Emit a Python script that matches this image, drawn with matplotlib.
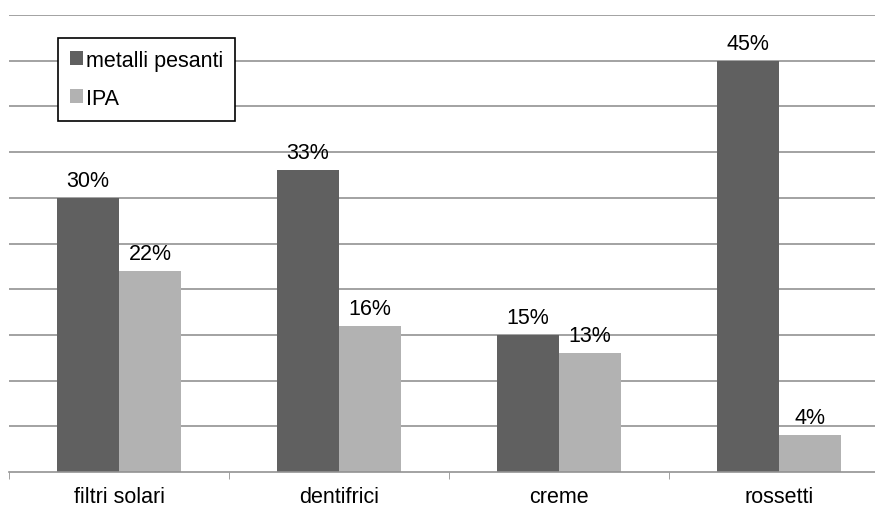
import numpy as np
import matplotlib.pyplot as plt

categorie = ['filtri solari', 'dentifrici', 'creme', 'rossetti']
metalli_pesanti = [30, 33, 15, 45]
ipa = [22, 16, 13, 4]

plt.rcParams['font.family'] = ['Liberation Sans', 'DejaVu Sans']
fs = 15.5

fig = plt.figure(figsize=(8.75, 5.1), dpi=100)
ax = fig.add_axes([9 / 875, 37 / 510, 880 / 875, 457 / 510])

x = np.arange(len(categorie))
w = 0.283
b1 = ax.bar(x - w / 2, metalli_pesanti, w, color='#606060', label='metalli pesanti', zorder=2)
b2 = ax.bar(x + w / 2, ipa, w, color='#b2b2b2', label='IPA', zorder=2)

for bars, vals in ((b1, metalli_pesanti), (b2, ipa)):
    for r, v in zip(bars, vals):
        ax.annotate(f'{v}%', (r.get_x() + r.get_width() / 2, v), xytext=(0, 5),
                    textcoords='offset points', ha='center', va='bottom', fontsize=fs)

ax.set_xlim(-0.5, len(categorie) - 0.5)
ax.set_ylim(0, 50)
ax.set_yticks(np.arange(5, 51, 5))
ax.yaxis.grid(True, color='#929292', linewidth=1.2, zorder=0)
ax.tick_params(axis='y', left=False, labelleft=False)

ax.set_xticks(x)
ax.set_xticklabels(categorie, fontsize=fs)
ax.set_xticks(np.arange(-0.5, len(categorie), 1), minor=True)
ax.tick_params(axis='x', which='major', length=0, pad=10)
ax.tick_params(axis='x', which='minor', length=5, color='#929292', direction='out')

for s in ('top', 'right', 'left'):
    ax.spines[s].set_visible(False)
ax.spines['bottom'].set_color('#929292')
ax.spines['bottom'].set_linewidth(1.2)

leg = ax.legend(loc='upper left', bbox_to_anchor=(0.0557, 0.95), fontsize=fs, frameon=True,
                fancybox=False, edgecolor='black', handlelength=0.6, handleheight=0.6,
                handletextpad=0.15, labelspacing=0.8, borderpad=0.55, borderaxespad=0)
leg.get_frame().set_linewidth(1.2)
leg.get_frame().set_alpha(1)

fig.savefig('out.png', dpi=100)
